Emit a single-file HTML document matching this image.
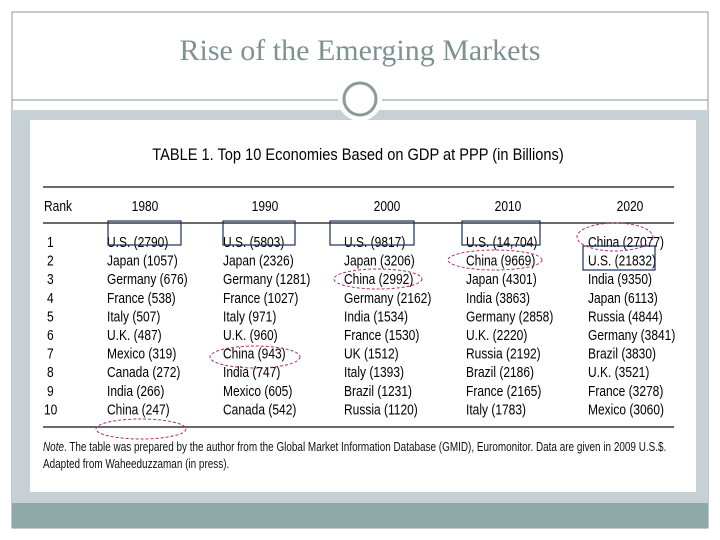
<!DOCTYPE html>
<html><head><meta charset="utf-8"><style>
html,body{margin:0;padding:0;background:#fff;}
svg{display:block;}
</style></head><body>
<svg width="720" height="540" viewBox="0 0 720 540" font-family="Liberation Sans, sans-serif">
<rect x="12" y="12" width="696" height="516" fill="#fff" stroke="#8a9a9a" stroke-width="1"/>
<text x="360" y="60" text-anchor="middle" font-family="Liberation Serif, serif" font-size="30" fill="#7d9291">Rise of the Emerging Markets</text>
<rect x="12" y="110" width="696" height="393" fill="#c7d1d5"/>
<rect x="12" y="503" width="696" height="25" fill="#8eaaa8"/>
<line x1="12" y1="100" x2="708" y2="100" stroke="#8a9a9a" stroke-width="1"/>
<circle cx="360" cy="99" r="22" fill="#fff"/>
<circle cx="360" cy="99" r="16" fill="none" stroke="#8a9a9a" stroke-width="3"/>
<rect x="30" y="120" width="666" height="372" fill="#fff"/>
<text x="358" y="160" text-anchor="middle" font-size="17" fill="#000" transform="translate(358,0) scale(0.86,1) translate(-358,0)">TABLE 1. Top 10 Economies Based on GDP at PPP (in Billions)</text>
<line x1="43" y1="187" x2="674" y2="187" stroke="#111" stroke-width="1.2"/>
<line x1="43" y1="223" x2="674" y2="223" stroke="#111" stroke-width="1.2"/>
<line x1="43" y1="427" x2="674" y2="427" stroke="#111" stroke-width="1.2"/>
<g id="tbl" font-size="15" fill="#000"></g>
<g fill="none" stroke="#1c2e5a" stroke-width="1.2">
<rect x="108" y="221" width="73" height="24"/>
<rect x="223" y="221" width="72" height="24"/>
<rect x="330" y="221" width="84" height="24"/>
<rect x="462" y="221" width="78" height="24"/>
<rect x="583" y="246" width="72" height="24"/>
</g>
<g fill="none" stroke="#b0306a" stroke-width="1" stroke-dasharray="3,2">
<ellipse cx="141" cy="429" rx="45" ry="10"/>
<ellipse cx="255" cy="357" rx="45" ry="11"/>
<ellipse cx="378" cy="279" rx="44" ry="10"/>
<ellipse cx="495" cy="260" rx="47" ry="10"/>
<ellipse cx="615" cy="237" rx="38" ry="14"/>
</g>
<text font-size="13" fill="#111" transform="translate(43,451) scale(0.765,1)"><tspan font-style="italic">Note</tspan>. The table was prepared by the author from the Global Market Information Database (GMID), Euromonitor. Data are given in 2009 U.S.$.</text>
<text font-size="13" fill="#111" transform="translate(43,468) scale(0.765,1)">Adapted from Waheeduzzaman (in press).</text>
</svg>
<script>
const years=['1980','1990','2000','2010','2020'];
const ranks=['1','2','3','4','5','6','7','8','9','10'];
const c1980=['U.S. (2790)','Japan (1057)','Germany (676)','France (538)','Italy (507)','U.K. (487)','Mexico (319)','Canada (272)','India (266)','China (247)'];
const c1990=['U.S. (5803)','Japan (2326)','Germany (1281)','France (1027)','Italy (971)','U.K. (960)','China (943)','India (747)','Mexico (605)','Canada (542)'];
const c2000=['U.S. (9817)','Japan (3206)','China (2992)','Germany (2162)','India (1534)','France (1530)','UK (1512)','Italy (1393)','Brazil (1231)','Russia (1120)'];
const c2010=['U.S. (14,704)','China (9669)','Japan (4301)','India (3863)','Germany (2858)','U.K. (2220)','Russia (2192)','Brazil (2186)','France (2165)','Italy (1783)'];
const c2020=['China (27077)','U.S. (21832)','India (9350)','Japan (6113)','Russia (4844)','Germany (3841)','Brazil (3830)','U.K. (3521)','France (3278)','Mexico (3060)'];
const cols=[c1980,c1990,c2000,c2010,c2020];
const g=document.getElementById('tbl');
const NS='http://www.w3.org/2000/svg';
const colX=[107,223,344,466,588], headX=[145,265,387,508,630];
function rowY(i){return 247+i*18.6;}
function t(x,y,s,anchor,name){const e=document.createElementNS(NS,'text');e.setAttribute('transform','translate('+x+','+y+') scale(0.8,1)');if(anchor)e.setAttribute('text-anchor',anchor);e.textContent=s;


g.appendChild(e);}
t(44,211,'Rank',null,'rank-header');
years.forEach((y,j)=>t(headX[j],211,y,'middle','year-header-'+y));
ranks.forEach((r,i)=>t(r.length>1?44:47,rowY(i),r,null,'rank-'+r));
cols.forEach((c,j)=>c.forEach((s,i)=>t(colX[j],rowY(i),s,null,'cell-'+years[j]+'-'+(i+1))));
</script>
</body></html>
